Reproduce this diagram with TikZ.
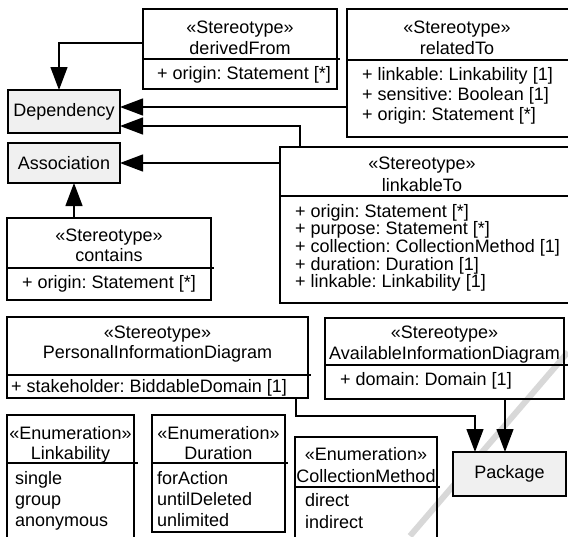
\documentclass[tikz,border=0pt]{standalone}
\usepackage{fontspec}
\setmainfont{Liberation Sans}
\usetikzlibrary{arrows.meta}
\definecolor{boxfill}{HTML}{F0F0F0}
\definecolor{wmark}{HTML}{C8C8C8}
\begin{document}
\frenchspacing
\begin{tikzpicture}[x=1pt,y=-1pt,
  font=\fontsize{18}{18}\selectfont\frenchspacing,
  umlbox/.style={draw, line width=1.3pt, inner sep=0pt, outer sep=0pt, anchor=north west},
  basebox/.style={umlbox, fill=boxfill},
  divline/.style={line width=1.3pt},
  ctxt/.style={anchor=base, inner sep=0pt},
  ltxt/.style={anchor=base west, inner sep=0pt},
  gen/.style={line width=1.3pt, -{Triangle[length=23pt 0, width=17pt 0]}}]
\useasboundingbox (0,0) rectangle (568,536);
\clip (0,0) rectangle (568,536);

% watermark stroke
\draw[line width=6pt, wmark, opacity=0.7] (568,352) -- (410,536);

% base boxes
\node[basebox, minimum width=112pt, minimum height=43pt] (dep) at (8,90) {Dependency};
\node[basebox, minimum width=112pt, minimum height=40pt] (assoc) at (8,143) {Association};
\node[basebox, minimum width=113pt, minimum height=44pt] (pkg) at (453,452) {Package};

% derivedFrom
\node[umlbox, minimum width=194pt, minimum height=80pt] (derived) at (143,9) {};
\draw[divline] (143,59) -- (340,59);
\node[ctxt] at (240,33) {«Stereotype»};
\node[ctxt] at (240,54.5) {derivedFrom};
\node[ltxt] at (157,79) {+ origin: Statement [*]};

% relatedTo
\node[umlbox, minimum width=230pt, minimum height=128pt] (related) at (347,9) {};
\draw[divline] (347,60) -- (577,60);
\node[ctxt] at (457,33) {«Stereotype»};
\node[ctxt] at (457,54.5) {relatedTo};
\node[ltxt] at (362,80) {+ linkable: Linkability [1]};
\node[ltxt] at (362,100) {+ sensitive: Boolean [1]};
\node[ltxt] at (362,120) {+ origin: Statement [*]};

% linkableTo
\node[umlbox, minimum width=295pt, minimum height=156pt] (link) at (280,147) {};
\draw[divline] (280,196) -- (575,196);
\node[ctxt] at (422,169) {«Stereotype»};
\node[ctxt] at (422,191.5) {linkableTo};
\node[ltxt] at (295,217) {+ origin: Statement [*]};
\node[ltxt] at (295,234.5) {+ purpose: Statement [*]};
\node[ltxt] at (295,252) {+ collection: CollectionMethod [1]};
\node[ltxt] at (295,270) {+ duration: Duration [1]};
\node[ltxt] at (295,287.5) {+ linkable: Linkability [1]};

% contains
\node[umlbox, minimum width=204pt, minimum height=82pt] (contains) at (7,218) {};
\draw[divline] (7,268) -- (214,268);
\node[ctxt] at (109,241) {«Stereotype»};
\node[ctxt] at (109,261.5) {contains};
\node[ltxt] at (22,288.5) {+ origin: Statement [*]};

% PersonalInformationDiagram
\node[umlbox, minimum width=301pt, minimum height=81pt] (pid) at (7,317) {};
\draw[divline] (7,375) -- (311,375);
\node[ctxt] at (157.5,338) {«Stereotype»};
\node[ctxt] at (157.5,358) {PersonalInformationDiagram};
\node[ltxt] at (11,392.5) {+ stakeholder: BiddableDomain [1]};

% AvailableInformationDiagram
\node[umlbox, minimum width=239pt, minimum height=81pt] (aid) at (325,318) {};
\draw[divline] (325,365) -- (568,365);
\node[ctxt] at (444.5,338) {«Stereotype»};
\node[ctxt] at (444.5,359) {AvailableInformationDiagram};
\node[ltxt] at (340,385.5) {+ domain: Domain [1]};

% Linkability
\node[umlbox, minimum width=127pt, minimum height=130pt] (linkab) at (7,415) {};
\draw[divline] (7,463) -- (138,463);
\node[ctxt] at (70.5,439) {«Enumeration»};
\node[ctxt] at (70.5,459.5) {Linkability};
\node[ltxt] at (15,484) {single};
\node[ltxt] at (15,505) {group};
\node[ltxt] at (15,526) {anonymous};

% Duration
\node[umlbox, minimum width=133pt, minimum height=117pt] (duration) at (152,415) {};
\draw[divline] (152,463) -- (288,463);
\node[ctxt] at (218.5,439) {«Enumeration»};
\node[ctxt] at (218.5,459.5) {Duration};
\node[ltxt] at (157,484) {forAction};
\node[ltxt] at (157,505) {untilDeleted};
\node[ltxt] at (157,526) {unlimited};

% CollectionMethod
\node[umlbox, minimum width=142pt, minimum height=110pt] (collect) at (295,437) {};
\draw[divline] (295,487) -- (440,487);
\node[ctxt] at (366,460) {«Enumeration»};
\node[ctxt] at (366,482) {CollectionMethod};
\node[ltxt] at (305,506) {direct};
\node[ltxt] at (305,528) {indirect};

% connectors
\coordinate (d1) at ([yshift=-34pt]derived.north west);
\coordinate (d2) at ([xshift=51pt]dep.north west);
\draw[gen] (d1) -| (d2);

\coordinate (r1) at ([yshift=-98pt]related.north west);
\draw[gen] (r1) -- (r1 -| dep.east);

\coordinate (l1) at ([xshift=20pt]link.north west);
\coordinate (dd) at ([yshift=-36pt]dep.north east);
\draw[gen] (l1) |- (dd);

\coordinate (l2) at ([yshift=-16pt]link.north west);
\draw[gen] (l2) -- (l2 -| assoc.east);

\coordinate (c1) at ([xshift=67pt]contains.north west);
\draw[gen] (c1) -- (c1 |- assoc.south);

\coordinate (p1) at ([xshift=-12pt]pid.south east);
\coordinate (k1) at ([xshift=22pt]pkg.north west);
\draw[gen] (p1) -- ++(0,18) -| (k1);

\coordinate (a1) at ([xshift=-59pt]aid.south east);
\draw[gen] (a1) -- (a1 |- pkg.north);
\end{tikzpicture}
\end{document}
